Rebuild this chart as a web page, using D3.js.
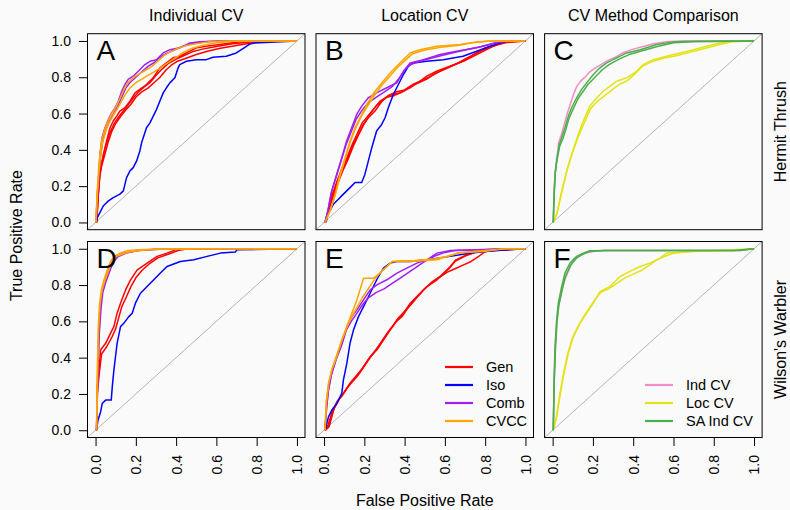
<!DOCTYPE html>
<html><head><meta charset="utf-8">
<script src="https://cdn.jsdelivr.net/npm/d3@7"></script>
<style>html,body{margin:0;padding:0;background:#fafafa;} svg{display:block;font-family:"Liberation Sans",Arial,Helvetica,sans-serif;}</style>
</head><body><svg id="chart" width="790" height="510"></svg>
<script>
const columnTitles = ["Individual CV", "Location CV", "CV Method Comparison"];
const rowLabels = ["Hermit Thrush", "Wilson's Warbler"];
const panelLetters = ["A", "B", "C", "D", "E", "F"];
const tickValues = [0, 0.2, 0.4, 0.6, 0.8, 1.0];
const tickLabels = ["0.0", "0.2", "0.4", "0.6", "0.8", "1.0"];
const methodNames = ["Gen", "Iso", "Comb", "CVCC"];
const cvNames = ["Ind CV", "Loc CV", "SA Ind CV"];
const xLabel = "False Positive Rate";
const yLabel = "True Positive Rate";

// ROC curves: flat lists of FPR,TPR pairs (one list per replicate)
// Panel A - Hermit Thrush, individual CV
const A_Gen = [
 [0.006,0,0.014,0.156,0.022,0.266,0.027,0.302,0.039,0.375,0.055,0.449,0.072,0.522,0.088,0.559,0.105,0.586,0.121,0.614,0.146,0.632,0.171,0.668,0.196,0.714,0.22,0.733,0.253,0.76,0.286,0.797,0.319,0.852,0.352,0.879,0.385,0.907,0.418,0.916,0.451,0.934,0.501,0.962,0.55,0.971,0.616,0.98,0.715,0.995,0.864,1,1,1],
 [0.004,0,0.012,0.14,0.02,0.25,0.03,0.31,0.045,0.37,0.062,0.44,0.08,0.5,0.1,0.545,0.125,0.585,0.15,0.62,0.175,0.65,0.2,0.69,0.23,0.72,0.26,0.74,0.29,0.77,0.32,0.8,0.35,0.84,0.38,0.87,0.41,0.89,0.45,0.905,0.5,0.925,0.56,0.945,0.62,0.96,0.7,0.975,0.78,0.99,0.83,0.997,1,1],
 [0.005,0,0.013,0.15,0.021,0.27,0.035,0.35,0.05,0.42,0.07,0.49,0.09,0.54,0.11,0.575,0.135,0.61,0.16,0.645,0.19,0.69,0.215,0.72,0.24,0.745,0.27,0.77,0.3,0.81,0.33,0.845,0.36,0.875,0.4,0.9,0.44,0.92,0.48,0.94,0.53,0.955,0.6,0.97,0.68,0.985,0.76,0.993,0.85,1,1,1]
];
const A_Iso = [
 [0.002,0,0.009,0.027,0.022,0.055,0.039,0.092,0.064,0.119,0.088,0.137,0.121,0.156,0.138,0.174,0.154,0.247,0.171,0.284,0.187,0.302,0.204,0.339,0.22,0.394,0.229,0.44,0.253,0.522,0.27,0.549,0.303,0.623,0.319,0.668,0.336,0.714,0.352,0.742,0.369,0.769,0.394,0.797,0.41,0.852,0.418,0.87,0.451,0.888,0.501,0.897,0.55,0.897,0.583,0.91,0.649,0.916,0.699,0.934,0.732,0.958,0.765,0.983,0.79,0.989,1,1]
];
const A_Comb = [
 [0.002,0,0.009,0.156,0.016,0.266,0.022,0.375,0.032,0.467,0.047,0.522,0.064,0.568,0.08,0.604,0.097,0.632,0.113,0.668,0.13,0.723,0.146,0.76,0.162,0.788,0.187,0.806,0.212,0.833,0.245,0.87,0.27,0.888,0.303,0.897,0.336,0.934,0.369,0.952,0.418,0.962,0.468,0.989,0.517,0.995,0.616,1,1,1],
 [0.003,0,0.01,0.15,0.018,0.27,0.025,0.37,0.035,0.45,0.05,0.51,0.07,0.56,0.09,0.6,0.11,0.64,0.13,0.69,0.15,0.74,0.17,0.77,0.2,0.8,0.23,0.83,0.26,0.86,0.29,0.88,0.32,0.91,0.35,0.93,0.39,0.95,0.43,0.97,0.48,0.985,0.55,0.995,0.62,1,1,1]
];
const A_CVCC = [
 [0.002,0,0.008,0.17,0.015,0.29,0.022,0.38,0.03,0.45,0.045,0.51,0.06,0.555,0.08,0.6,0.1,0.635,0.12,0.68,0.14,0.73,0.16,0.77,0.19,0.8,0.22,0.82,0.25,0.84,0.28,0.86,0.31,0.89,0.34,0.92,0.37,0.94,0.41,0.96,0.45,0.975,0.5,0.985,0.56,0.995,0.65,1,1,1],
 [0.002,0,0.009,0.16,0.017,0.28,0.025,0.37,0.035,0.44,0.05,0.5,0.065,0.545,0.085,0.585,0.105,0.62,0.125,0.66,0.145,0.7,0.17,0.74,0.2,0.77,0.23,0.79,0.26,0.81,0.29,0.83,0.32,0.85,0.36,0.88,0.4,0.91,0.44,0.94,0.48,0.96,0.53,0.975,0.6,0.99,0.7,1,1,1]
];
// Panel B - Hermit Thrush, location CV
const B_Gen = [
 [0.005,0,0.021,0.064,0.038,0.137,0.063,0.21,0.088,0.284,0.112,0.339,0.137,0.412,0.162,0.467,0.195,0.54,0.22,0.577,0.253,0.614,0.294,0.678,0.336,0.705,0.377,0.714,0.427,0.742,0.476,0.778,0.51,0.806,0.559,0.833,0.625,0.861,0.692,0.888,0.758,0.925,0.807,0.952,0.857,0.98,0.906,0.995,1,1],
 [0.004,0,0.02,0.06,0.04,0.15,0.065,0.23,0.09,0.3,0.115,0.36,0.14,0.43,0.165,0.49,0.19,0.55,0.22,0.59,0.25,0.63,0.28,0.67,0.31,0.69,0.35,0.7,0.39,0.72,0.43,0.75,0.47,0.77,0.51,0.79,0.55,0.82,0.6,0.845,0.65,0.87,0.7,0.9,0.75,0.93,0.8,0.96,0.85,0.975,0.9,0.99,1,1],
 [0.006,0,0.025,0.07,0.045,0.14,0.07,0.22,0.095,0.29,0.12,0.35,0.145,0.42,0.17,0.48,0.2,0.545,0.23,0.6,0.26,0.645,0.29,0.67,0.32,0.7,0.36,0.72,0.4,0.73,0.44,0.76,0.48,0.78,0.52,0.8,0.57,0.83,0.62,0.855,0.67,0.88,0.72,0.91,0.77,0.94,0.82,0.965,0.87,0.985,0.92,0.998,1,1]
];
const B_Iso = [
 [0.01,0,0.02,0.046,0.046,0.1,0.071,0.128,0.096,0.156,0.129,0.192,0.154,0.22,0.187,0.22,0.203,0.266,0.22,0.339,0.237,0.412,0.261,0.504,0.286,0.54,0.303,0.577,0.319,0.632,0.344,0.705,0.369,0.76,0.394,0.815,0.419,0.861,0.443,0.879,0.51,0.888,0.592,0.897,0.69,0.916,0.758,0.943,0.824,0.971,0.873,0.989,0.906,0.998,1,1]
];
const B_Comb = [
 [0.005,0,0.021,0.073,0.038,0.174,0.063,0.266,0.088,0.357,0.112,0.449,0.137,0.522,0.162,0.595,0.187,0.641,0.22,0.687,0.261,0.714,0.311,0.742,0.361,0.769,0.394,0.833,0.427,0.879,0.493,0.897,0.576,0.925,0.658,0.943,0.758,0.962,0.824,0.98,0.89,0.998,1,1],
 [0.005,0,0.02,0.07,0.035,0.16,0.06,0.25,0.085,0.34,0.11,0.43,0.135,0.5,0.16,0.57,0.19,0.62,0.22,0.66,0.26,0.69,0.3,0.72,0.34,0.75,0.37,0.79,0.4,0.84,0.43,0.87,0.48,0.89,0.55,0.91,0.62,0.93,0.7,0.95,0.78,0.97,0.85,0.99,0.92,1,1,1]
];
const B_CVCC = [
 [0.005,0,0.03,0.064,0.055,0.156,0.079,0.266,0.104,0.357,0.129,0.449,0.154,0.522,0.179,0.577,0.212,0.65,0.253,0.723,0.294,0.778,0.336,0.833,0.377,0.879,0.427,0.934,0.476,0.952,0.559,0.971,0.675,0.98,0.758,0.995,0.84,1,1,1],
 [0.005,0,0.032,0.07,0.058,0.16,0.083,0.27,0.108,0.36,0.132,0.45,0.157,0.52,0.183,0.58,0.215,0.64,0.25,0.7,0.29,0.76,0.33,0.81,0.37,0.86,0.41,0.9,0.44,0.93,0.5,0.95,0.58,0.965,0.66,0.975,0.74,0.99,0.82,1,1,1]
];
// Panel C - Hermit Thrush, CV method comparison
const C_IndCV = [
 [0.003,0,0.007,0.16,0.012,0.27,0.02,0.35,0.03,0.44,0.045,0.49,0.06,0.55,0.075,0.61,0.09,0.66,0.105,0.71,0.12,0.75,0.14,0.78,0.16,0.8,0.185,0.83,0.21,0.85,0.24,0.87,0.27,0.89,0.31,0.91,0.35,0.935,0.4,0.955,0.45,0.97,0.5,0.985,0.56,0.995,0.65,1,1,1]
];
const C_LocCV = [
 [0.003,0,0.02,0.046,0.045,0.174,0.07,0.284,0.094,0.375,0.127,0.485,0.152,0.559,0.185,0.641,0.219,0.687,0.252,0.723,0.285,0.751,0.318,0.778,0.368,0.797,0.417,0.833,0.45,0.87,0.5,0.897,0.566,0.916,0.632,0.934,0.699,0.952,0.765,0.971,0.831,0.989,0.897,0.998,1,1],
 [0.003,0,0.022,0.05,0.048,0.18,0.072,0.29,0.097,0.38,0.13,0.48,0.157,0.55,0.19,0.63,0.225,0.67,0.26,0.7,0.295,0.73,0.33,0.76,0.37,0.78,0.41,0.82,0.445,0.86,0.49,0.885,0.55,0.905,0.62,0.92,0.69,0.94,0.76,0.96,0.83,0.98,0.89,0.995,1,1]
];
const C_SAIndCV = [
 [0.003,0,0.007,0.156,0.012,0.266,0.02,0.339,0.033,0.43,0.045,0.467,0.061,0.522,0.078,0.586,0.094,0.632,0.119,0.687,0.144,0.733,0.169,0.769,0.202,0.815,0.235,0.852,0.268,0.879,0.318,0.907,0.368,0.934,0.434,0.952,0.517,0.98,0.6,0.995,0.7,0.998,1,1],
 [0.003,0,0.008,0.16,0.013,0.27,0.021,0.34,0.035,0.42,0.05,0.46,0.065,0.51,0.08,0.57,0.1,0.62,0.125,0.68,0.15,0.72,0.175,0.76,0.21,0.8,0.245,0.84,0.28,0.87,0.33,0.9,0.38,0.925,0.44,0.945,0.52,0.97,0.6,0.99,0.7,0.995,1,1]
];
// Panel D - Wilson's Warbler, individual CV
const D_Gen = [
 [0.005,0,0.008,0.221,0.017,0.331,0.025,0.442,0.05,0.479,0.074,0.534,0.091,0.571,0.107,0.645,0.124,0.7,0.149,0.773,0.174,0.829,0.207,0.884,0.256,0.921,0.306,0.958,0.355,0.976,0.405,0.998,1,1],
 [0.005,0,0.009,0.2,0.018,0.31,0.03,0.42,0.055,0.46,0.08,0.51,0.1,0.56,0.115,0.62,0.13,0.68,0.155,0.74,0.175,0.79,0.2,0.84,0.23,0.88,0.27,0.92,0.31,0.95,0.36,0.97,0.41,0.99,0.45,0.998,1,1]
];
const D_Iso = [
 [0.005,0,0.012,0.055,0.025,0.101,0.033,0.147,0.05,0.166,0.078,0.166,0.083,0.239,0.091,0.331,0.099,0.405,0.107,0.479,0.124,0.571,0.14,0.589,0.165,0.626,0.182,0.645,0.198,0.7,0.223,0.755,0.256,0.792,0.289,0.829,0.322,0.866,0.355,0.902,0.421,0.93,0.488,0.939,0.554,0.958,0.62,0.976,0.694,0.982,0.702,0.994,1,1]
];
const D_Comb = [
 [0.005,0,0.008,0.184,0.012,0.368,0.017,0.552,0.025,0.681,0.033,0.773,0.05,0.829,0.066,0.884,0.083,0.93,0.107,0.958,0.14,0.976,0.207,0.991,0.339,0.998,1,1],
 [0.005,0,0.009,0.18,0.013,0.36,0.019,0.54,0.027,0.67,0.036,0.76,0.052,0.82,0.07,0.875,0.087,0.925,0.11,0.955,0.15,0.975,0.21,0.99,0.3,0.997,1,1]
];
const D_CVCC = [
 [0.005,0,0.007,0.2,0.01,0.4,0.014,0.58,0.02,0.7,0.03,0.78,0.045,0.84,0.06,0.89,0.075,0.93,0.095,0.96,0.12,0.975,0.16,0.99,0.22,0.995,0.3,0.998,1,1],
 [0.005,0,0.008,0.19,0.011,0.38,0.015,0.56,0.022,0.69,0.032,0.77,0.048,0.83,0.065,0.88,0.08,0.92,0.1,0.955,0.13,0.97,0.18,0.985,0.25,0.993,0.35,0.998,1,1]
];
// Panel E - Wilson's Warbler, location CV
const E_Gen = [
 [0.005,0,0.022,0.018,0.046,0.11,0.071,0.166,0.096,0.203,0.129,0.258,0.163,0.295,0.196,0.35,0.229,0.405,0.262,0.442,0.295,0.497,0.328,0.552,0.362,0.608,0.395,0.645,0.428,0.7,0.461,0.737,0.511,0.792,0.561,0.829,0.594,0.866,0.627,0.902,0.655,0.939,0.71,0.967,0.76,0.985,0.859,0.994,1,1],
 [0.004,0,0.02,0.03,0.04,0.1,0.065,0.16,0.09,0.19,0.12,0.24,0.15,0.28,0.18,0.32,0.21,0.37,0.24,0.42,0.27,0.46,0.3,0.51,0.33,0.56,0.36,0.6,0.39,0.63,0.42,0.68,0.45,0.72,0.49,0.77,0.53,0.81,0.57,0.84,0.61,0.87,0.65,0.89,0.69,0.91,0.73,0.93,0.77,0.96,0.8,0.985,0.86,0.995,1,1],
 [0.006,0,0.025,0.02,0.05,0.12,0.075,0.17,0.1,0.21,0.13,0.26,0.16,0.3,0.19,0.34,0.22,0.39,0.25,0.43,0.28,0.48,0.31,0.53,0.34,0.57,0.37,0.62,0.4,0.655,0.43,0.69,0.46,0.73,0.5,0.78,0.54,0.82,0.58,0.85,0.62,0.89,0.65,0.93,0.7,0.96,0.75,0.98,0.85,0.99,1,1]
];
const E_Iso = [
 [0.005,0,0.022,0.074,0.038,0.11,0.063,0.147,0.088,0.203,0.096,0.276,0.113,0.368,0.129,0.479,0.146,0.552,0.171,0.626,0.196,0.681,0.221,0.737,0.245,0.792,0.27,0.847,0.295,0.893,0.328,0.921,0.362,0.93,0.428,0.93,0.511,0.939,0.627,0.958,0.726,0.976,0.859,0.991,1,1]
];
const E_Comb = [
 [0.005,0,0.013,0.129,0.022,0.221,0.038,0.313,0.063,0.405,0.088,0.479,0.113,0.571,0.138,0.626,0.163,0.663,0.196,0.718,0.229,0.773,0.262,0.801,0.312,0.829,0.362,0.866,0.411,0.893,0.461,0.921,0.511,0.939,0.561,0.976,0.627,0.991,0.76,0.994,0.892,1,1,1],
 [0.004,0,0.012,0.12,0.02,0.21,0.035,0.3,0.06,0.39,0.085,0.46,0.11,0.55,0.135,0.6,0.16,0.64,0.19,0.69,0.22,0.73,0.26,0.76,0.3,0.78,0.34,0.81,0.38,0.84,0.42,0.87,0.46,0.9,0.5,0.93,0.55,0.96,0.6,0.98,0.65,0.99,0.8,0.995,0.9,1,1,1]
];
const E_CVCC = [
 [0.005,0,0.01,0.147,0.022,0.258,0.038,0.331,0.063,0.405,0.088,0.497,0.113,0.571,0.138,0.645,0.163,0.718,0.196,0.838,0.245,0.838,0.279,0.866,0.312,0.902,0.337,0.93,0.428,0.93,0.561,0.939,0.66,0.976,0.793,0.985,0.892,1,1,1],
 [0.005,0,0.012,0.16,0.025,0.27,0.04,0.34,0.065,0.42,0.09,0.5,0.115,0.57,0.14,0.63,0.165,0.68,0.19,0.73,0.22,0.78,0.25,0.83,0.28,0.87,0.31,0.9,0.34,0.93,0.45,0.935,0.55,0.945,0.62,0.96,0.68,0.98,0.8,0.99,0.9,1,1,1]
];
// Panel F - Wilson's Warbler, CV method comparison
const F_IndCV = [
 [0.003,0,0.008,0.28,0.013,0.47,0.02,0.6,0.03,0.69,0.045,0.76,0.06,0.83,0.075,0.87,0.09,0.91,0.11,0.94,0.13,0.96,0.16,0.975,0.2,0.985,0.25,0.99,0.93,0.991,1,1]
];
const F_LocCV = [
 [0.003,0,0.02,0.074,0.036,0.184,0.053,0.295,0.078,0.424,0.103,0.516,0.136,0.589,0.169,0.645,0.202,0.7,0.235,0.764,0.285,0.792,0.334,0.847,0.384,0.875,0.434,0.902,0.483,0.921,0.533,0.948,0.566,0.976,0.632,0.98,0.699,0.985,0.897,0.994,1,1],
 [0.003,0,0.018,0.07,0.033,0.18,0.05,0.29,0.072,0.41,0.095,0.5,0.12,0.56,0.15,0.62,0.18,0.67,0.21,0.72,0.24,0.76,0.28,0.78,0.32,0.81,0.36,0.84,0.4,0.86,0.44,0.88,0.48,0.91,0.52,0.94,0.56,0.96,0.6,0.975,0.65,0.985,0.9,0.99,1,1]
];
const F_SAIndCV = [
 [0.003,0,0.007,0.276,0.012,0.46,0.02,0.608,0.028,0.7,0.045,0.792,0.061,0.866,0.086,0.921,0.119,0.958,0.152,0.976,0.185,0.989,0.268,0.991,0.93,0.991,1,1],
 [0.003,0,0.008,0.27,0.014,0.45,0.022,0.6,0.031,0.69,0.048,0.78,0.064,0.85,0.09,0.91,0.12,0.95,0.15,0.97,0.18,0.985,0.26,0.99,0.9,0.991,1,1]
];

const seriesColors = {
  "Gen": "#ff0000", "Iso": "#0000ff", "Comb": "#a020f0", "CVCC": "#ffa500",
  "Ind CV": "#f48cc8", "Loc CV": "#e3e31c", "SA Ind CV": "#4cae4c"
};

const panels = [
  {letter: "A", col: 0, row: 0, series: [["Gen", A_Gen], ["Iso", A_Iso], ["Comb", A_Comb], ["CVCC", A_CVCC]]},
  {letter: "B", col: 1, row: 0, series: [["Gen", B_Gen], ["Iso", B_Iso], ["Comb", B_Comb], ["CVCC", B_CVCC]]},
  {letter: "C", col: 2, row: 0, series: [["Ind CV", C_IndCV], ["Loc CV", C_LocCV], ["SA Ind CV", C_SAIndCV]]},
  {letter: "D", col: 0, row: 1, series: [["Gen", D_Gen], ["Iso", D_Iso], ["Comb", D_Comb], ["CVCC", D_CVCC]]},
  {letter: "E", col: 1, row: 1, series: [["Gen", E_Gen], ["Iso", E_Iso], ["Comb", E_Comb], ["CVCC", E_CVCC]], legend: methodNames},
  {letter: "F", col: 2, row: 1, series: [["Ind CV", F_IndCV], ["Loc CV", F_LocCV], ["SA Ind CV", F_SAIndCV]], legend: cvNames}
];

function toPairs(flat) {
  const out = [];
  for (let i = 0; i < flat.length; i += 2) out.push([flat[i], flat[i + 1]]);
  return out;
}

const svg = d3.select("#chart");
const boxLeft = [87.5, 316, 544.6];
const boxTop = [33.7, 241.5];
const boxW = 217.5, boxH = 196;
const pad = 0.04;

svg.append("rect").attr("width", 790).attr("height", 510).attr("fill", "#fafafa");

const line = d3.line();

panels.forEach(p => {
  const L = boxLeft[p.col], T = boxTop[p.row];
  const x = d3.scaleLinear().domain([-pad, 1 + pad]).range([L, L + boxW]);
  const y = d3.scaleLinear().domain([-pad, 1 + pad]).range([T + boxH, T]);
  const g = svg.append("g");
  line.x(d => x(d[0])).y(d => y(d[1]));

  // diagonal reference
  g.append("line")
    .attr("x1", x(-pad)).attr("y1", y(-pad)).attr("x2", x(1 + pad)).attr("y2", y(1 + pad))
    .attr("stroke", "#b4b4b4").attr("stroke-width", 1);

  p.series.forEach(([name, reps]) => {
    reps.forEach(rep => {
      g.append("path").datum(toPairs(rep))
        .attr("d", line)
        .attr("fill", "none")
        .attr("stroke", seriesColors[name])
        .attr("stroke-width", 1.5)
        .attr("stroke-linejoin", "round");
    });
  });

  // frame
  g.append("rect").attr("x", L).attr("y", T).attr("width", boxW).attr("height", boxH)
    .attr("fill", "none").attr("stroke", "#000").attr("stroke-width", 1);

  // panel letter
  g.append("text").attr("x", L + 9).attr("y", T + 26.5)
    .attr("font-size", 28).attr("fill", "#000").text(p.letter);

  // left axis
  if (p.col === 0) {
    const ax = svg.append("g").attr("transform", `translate(${L},0)`)
      .call(d3.axisLeft(y).tickValues(tickValues).tickFormat((d, i) => tickLabels[i]).tickSize(8.5).tickPadding(8));
    ax.select(".domain").remove();
    ax.selectAll("text").attr("font-size", 14).attr("font-family", "Liberation Sans, Arial, sans-serif").attr("fill", "#000");
    ax.selectAll("line").attr("stroke", "#000");
  }
  // bottom axis
  if (p.row === 1) {
    const ax = svg.append("g").attr("transform", `translate(0,${T + boxH})`)
      .call(d3.axisBottom(x).tickValues(tickValues).tickFormat((d, i) => tickLabels[i]).tickSize(8.5));
    ax.select(".domain").remove();
    ax.selectAll("line").attr("stroke", "#000");
    ax.selectAll("text")
      .attr("font-size", 14).attr("font-family", "Liberation Sans, Arial, sans-serif").attr("fill", "#000")
      .attr("transform", "rotate(-90)")
      .attr("x", -17.5).attr("y", 0).attr("dy", "0.35em")
      .attr("text-anchor", "end");
  }

  // legend
  if (p.legend) {
    const lx = p.col === 1 ? 445 : 645;
    const n = p.legend.length;
    p.legend.forEach((name, i) => {
      const cy = 421 - (n - 1 - i) * 18;
      svg.append("line").attr("x1", lx).attr("x2", lx + 28).attr("y1", cy).attr("y2", cy)
        .attr("stroke", seriesColors[name]).attr("stroke-width", 2.2);
      svg.append("text").attr("x", lx + 41).attr("y", cy).attr("dy", "0.36em")
        .attr("font-size", 14.5).attr("fill", "#000").text(name);
    });
  }
});

// column titles
columnTitles.forEach((t, i) => {
  svg.append("text").attr("x", boxLeft[i] + boxW / 2).attr("y", 21)
    .attr("text-anchor", "middle").attr("font-size", 16).attr("fill", "#000").text(t);
});
// row labels
rowLabels.forEach((t, i) => {
  const cy = boxTop[i] + boxH / 2;
  svg.append("text").attr("transform", `translate(786,${cy}) rotate(-90)`)
    .attr("text-anchor", "middle").attr("font-size", 16).attr("fill", "#000").text(t);
});
// axis labels
svg.append("text").attr("x", (boxLeft[0] + boxLeft[2] + boxW) / 2).attr("y", 506)
  .attr("text-anchor", "middle").attr("font-size", 16).attr("fill", "#000").text(xLabel);
svg.append("text").attr("transform", `translate(22,${(boxTop[0] + boxTop[1] + boxH) / 2}) rotate(-90)`)
  .attr("text-anchor", "middle").attr("font-size", 16).attr("fill", "#000").text(yLabel);
</script></body></html>
